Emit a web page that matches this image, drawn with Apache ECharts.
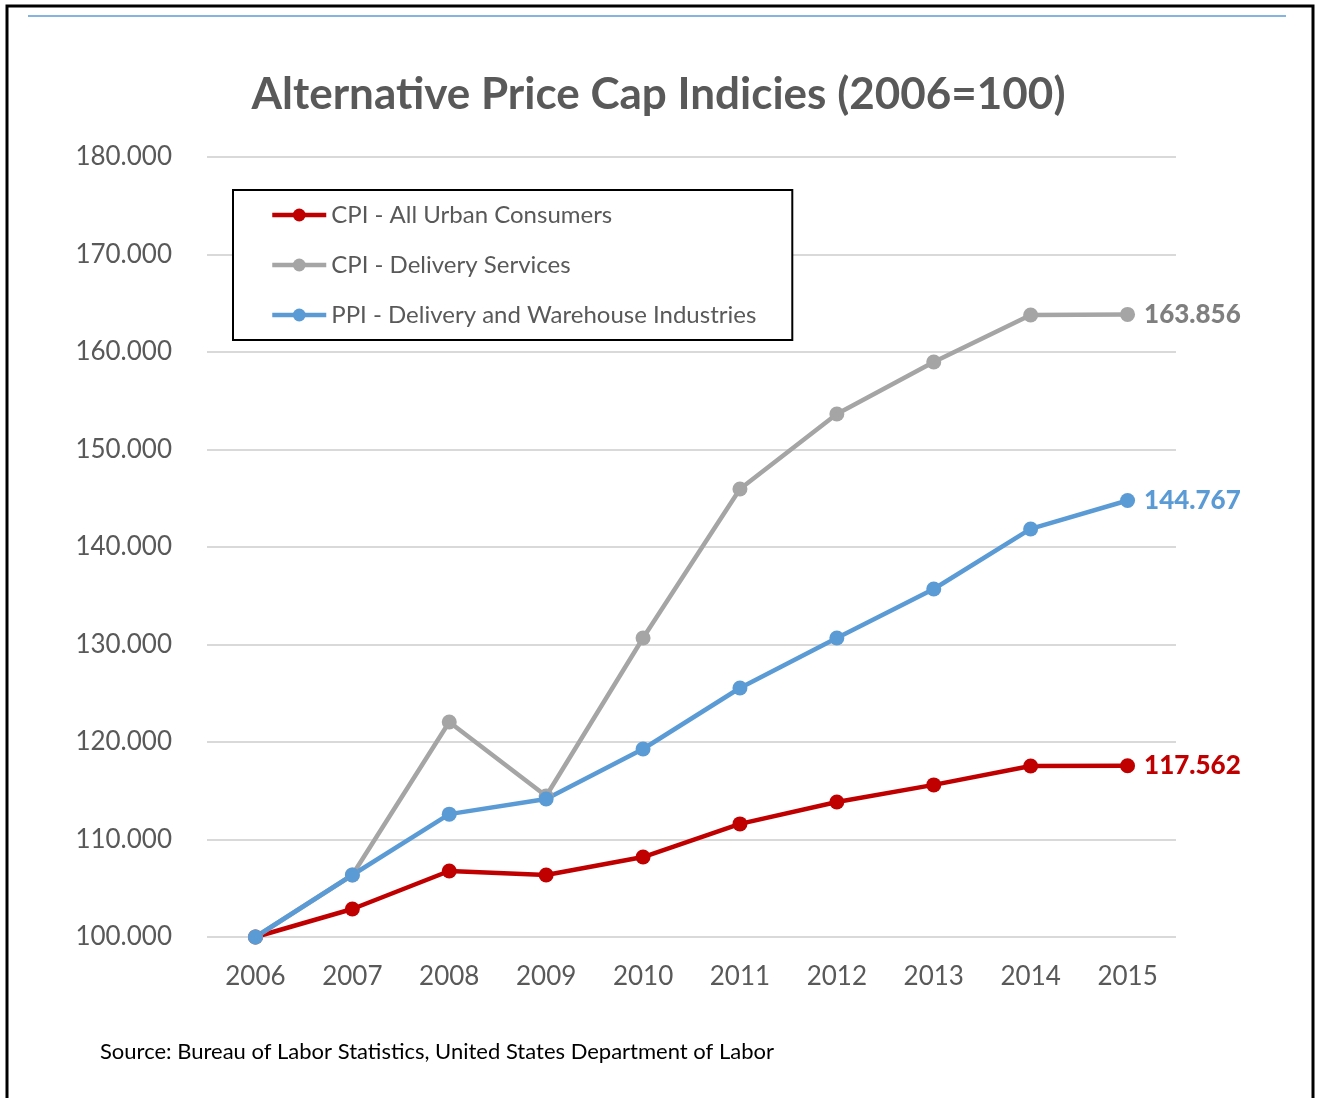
<!DOCTYPE html>
<html>
<head>
<meta charset="utf-8">
<script src="https://cdn.jsdelivr.net/npm/echarts@6/dist/echarts.min.js"></script>
<style>
  html, body { margin: 0; padding: 0; background: #fff; }
  #chart { width: 1317px; height: 1098px; }
</style>
</head>
<body>
<div id="chart"></div>
<script>
  const years = ['2006', '2007', '2008', '2009', '2010', '2011', '2012', '2013', '2014', '2015'];
  const cpiUrban = [100, 102.87, 106.77, 106.36, 108.2, 111.6, 113.85, 115.6, 117.54, 117.562];
  const cpiDelivery = [100, 106.36, 122.05, 114.46, 130.67, 145.95, 153.64, 158.97, 163.8, 163.856];
  const ppiDelivery = [100, 106.36, 112.6, 114.15, 119.28, 125.54, 130.67, 135.69, 141.85, 144.767];

  const font = 'Lato, "Open Sans", sans-serif';

  function makeSeries(name, values, color, labelColor) {
    return {
      name: name,
      type: 'line',
      data: values.map(function (v, i) {
        if (i === values.length - 1) {
          return {
            value: v,
            label: {
              show: true,
              position: 'right',
              distance: 9,
              formatter: function (p) { return p.value.toFixed(3); },
              color: labelColor,
              fontFamily: font,
              fontWeight: 900,
              fontSize: 26
            }
          };
        }
        return v;
      }),
      symbol: 'circle',
      symbolSize: 15,
      lineStyle: { color: color, width: 4.5 },
      itemStyle: { color: color },
      emphasis: { disabled: true },
      animation: false
    };
  }

  const chart = echarts.init(document.getElementById('chart'));
  const option = {
    backgroundColor: '#fff',
    title: {
      text: 'Alternative Price Cap Indicies (2006=100)',
      left: 'center',
      top: 68,
      textStyle: { fontFamily: font, fontSize: 44, fontWeight: 'bold', color: '#595959' }
    },
    graphic: [
      {
        type: 'rect',
        shape: { x: 7, y: 6, width: 1306, height: 1200 },
        style: { fill: 'none', stroke: '#000', lineWidth: 3 }
      },
      {
        type: 'line',
        shape: { x1: 28, y1: 16, x2: 1286, y2: 16 },
        style: { stroke: '#5b9bd5', lineWidth: 1.5 }
      },
      {
        type: 'text',
        left: 100,
        top: 1041,
        style: {
          text: 'Source: Bureau of Labor Statistics, United States Department of Labor',
          fontFamily: font, fontSize: 22, fill: '#000'
        }
      }
    ],
    legend: {
      orient: 'vertical',
      left: 233,
      top: 190,
      padding: [13, 36, 13, 37],
      itemGap: 26,
      itemWidth: 54,
      itemHeight: 16,
      backgroundColor: '#fff',
      borderColor: '#000',
      borderWidth: 2,
      lineStyle: { width: 4.5 },
      textStyle: { fontFamily: font, fontSize: 24, lineHeight: 24, color: '#595959' },
      data: ['CPI - All Urban Consumers', 'CPI - Delivery Services', 'PPI - Delivery and Warehouse Industries']
    },
    grid: { left: 207, right: 141, top: 157, bottom: 161, containLabel: false },
    xAxis: {
      type: 'category',
      data: years,
      boundaryGap: true,
      axisLine: { show: false },
      axisTick: { show: false },
      axisLabel: { fontFamily: font, fontSize: 26, color: '#595959', margin: 27 }
    },
    yAxis: {
      type: 'value',
      min: 100,
      max: 180,
      interval: 10,
      axisLine: { show: false },
      axisTick: { show: false },
      axisLabel: {
        fontFamily: font, fontSize: 26, color: '#595959', margin: 35,
        formatter: function (v) { return v.toFixed(3); }
      },
      splitLine: { lineStyle: { color: '#d9d9d9', width: 2 } }
    },
    series: [
      makeSeries('CPI - All Urban Consumers', cpiUrban, '#c00000', '#c00000'),
      makeSeries('CPI - Delivery Services', cpiDelivery, '#a5a5a5', '#7f7f7f'),
      makeSeries('PPI - Delivery and Warehouse Industries', ppiDelivery, '#5b9bd5', '#5b9bd5')
    ]
  };
  chart.setOption(option);
</script>
</body>
</html>
